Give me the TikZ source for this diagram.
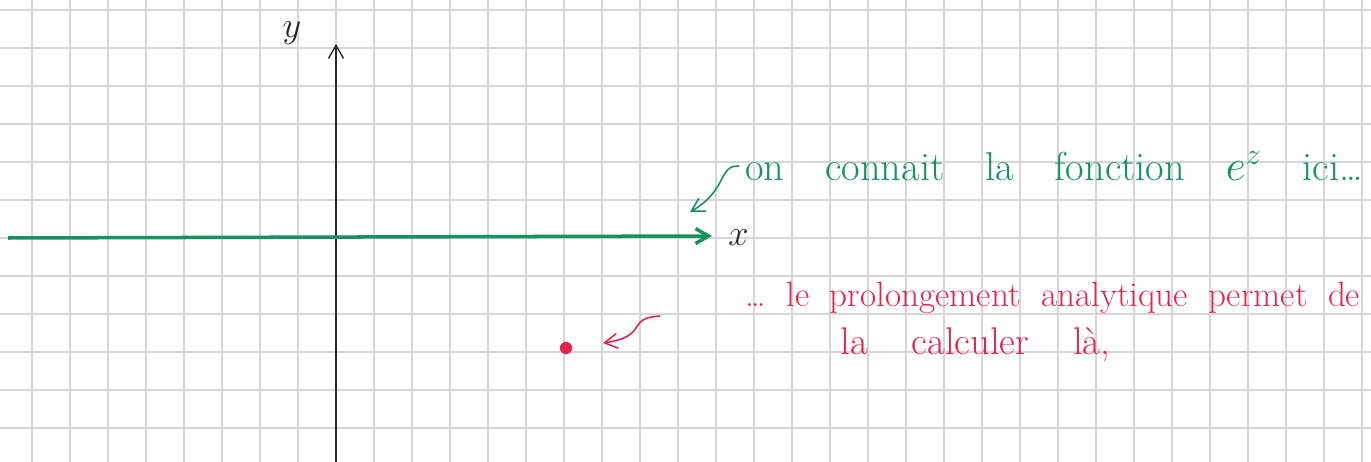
\documentclass[tikz,border=0pt]{standalone}
\usepackage{amsmath,amssymb}
\usetikzlibrary{arrows.meta,positioning,calc}
\definecolor{gridGray}{RGB}{214,214,218}
\definecolor{penGreen}{RGB}{22,146,98}
\definecolor{penRed}{RGB}{226,36,78}
\definecolor{penInk}{RGB}{40,40,40}

\begin{document}
\begin{tikzpicture}[x=0.02cm,y=-0.02cm,>={Straight Barb[length=2.6mm,width=3mm]},
    gridline/.style={gridGray,line width=0.7pt},
    axis/.style={penInk,line width=0.8pt},
    note/.style={font=\fontsize{20}{24}\selectfont,anchor=west,inner sep=0pt},
    squiggle/.style={->,line width=0.9pt}]
  \useasboundingbox (0,0) rectangle (1371,462);
  % squared paper
  \foreach \gx in {32,70,...,1371}
    \draw[gridline] (\gx,0) -- (\gx,462);
  \foreach \gy in {10,48,...,462}
    \draw[gridline] (0,\gy) -- (1371,\gy);
  % axes
  \coordinate (ybot) at (336,462);
  \coordinate (ytop) at (336,44);
  \coordinate (xleft) at (8,238);
  \coordinate (xright) at (712,236);
  \draw[axis,->] (ybot) -- (ytop);
  \draw[->,penGreen,line width=2pt] (xleft) -- (xright);
  \node[font=\fontsize{20}{24}\selectfont,penInk] (ylbl) at (292,33) {$y$};
  \node[font=\fontsize{20}{24}\selectfont,penInk,anchor=west,inner sep=0pt] (xlbl) at (728,238) {$x$};
  % the known part
  \node[note,font=\fontsize{23}{27}\selectfont,text=penGreen] (known) at (745,166)
    {\makebox[12.35cm][s]{on connait la fonction $e^{z}$ ici\dots}};
  \coordinate (knownTip) at (690,212);
  \draw[squiggle,penGreen] ($(known.west)+(-6,0)$)
    .. controls (718,165) and (728,190) .. (knownTip);
  % the continued part
  \node[circle,fill=penRed,minimum size=7pt,inner sep=0pt] (pt) at (566,348) {};
  \node[note,text=penRed] (cont) at (745,298)
    {\makebox[12.3cm][s]{\dots{} le prolongement analytique permet de}};
  \node[note,font=\fontsize{22}{26}\selectfont,text=penRed] (cont2) at (840,345)
    {\makebox[5.4cm][s]{la calculer là,}};
  \coordinate (contTip) at (603,343);
  \draw[squiggle,penRed] (660,316)
    .. controls (625,318) and (650,336) .. (contTip);
\end{tikzpicture}
\end{document}
